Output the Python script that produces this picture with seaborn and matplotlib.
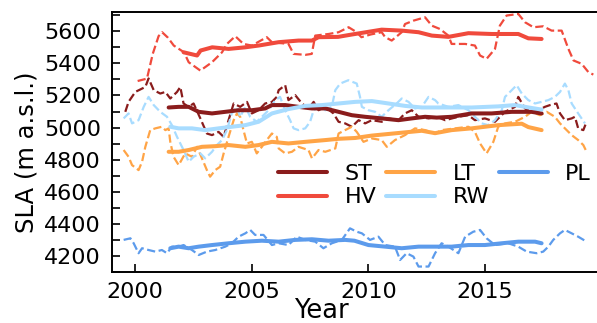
import numpy as np
import pandas as pd
import matplotlib
matplotlib.use("Agg")
import matplotlib.pyplot as plt
from matplotlib.ticker import MultipleLocator, NullLocator
import seaborn as sns

# ---------------- data ----------------
names = ["ST", "HV", "LT", "RW", "PL"]
colors = ["#8a1c1c", "#f04a3c", "#ffa446", "#a8dcff", "#5c9bec"]

st_dash_x = [1999.57, 1999.71, 2000.0, 2000.43, 2000.57, 2000.79, 2001.07, 2001.29, 2001.5, 2001.79, 2001.93, 2002.07, 2002.29, 2002.5, 2002.79, 2003.07, 2003.29, 2003.57, 2003.79, 2004.0, 2004.22, 2004.5, 2004.79, 2005.0, 2005.29, 2005.57, 2005.86, 2006.07, 2006.15, 2006.43, 2006.57, 2006.86, 2007.15, 2007.43, 2007.65, 2007.86, 2008.15, 2008.5, 2008.72, 2009.0, 2009.29, 2009.58, 2009.86, 2010.15, 2010.57, 2010.86, 2011.29, 2011.57, 2011.86, 2012.15, 2012.58, 2012.93, 2013.29, 2013.86, 2014.29, 2014.57, 2015.0, 2015.43, 2015.86, 2016.29, 2016.43, 2016.72, 2017.0, 2017.29, 2017.57, 2017.79, 2018.07, 2018.22, 2018.43, 2018.72, 2018.86, 2019.0, 2019.22, 2019.36]
st_dash_y = [5098, 5160, 5222, 5253, 5306, 5233, 5212, 5222, 5181, 5222, 5253, 5150, 5129, 5150, 5057, 4963, 4953, 4973, 4942, 5046, 5150, 5129, 5160, 5088, 5108, 5150, 5160, 5191, 5233, 5264, 5171, 5202, 5150, 5119, 5160, 5108, 5129, 5088, 5036, 5026, 5005, 5046, 5026, 5046, 5036, 5057, 5046, 5088, 5108, 5067, 5057, 5067, 5046, 5067, 5077, 5046, 5057, 5036, 5098, 5129, 5191, 5119, 5098, 5108, 5129, 5140, 5150, 5088, 5046, 5057, 5067, 4995, 4984, 5036]
st_sm_x = [2001.43, 2001.86, 2002.29, 2002.72, 2003.29, 2003.86, 2004.43, 2005.0, 2005.57, 2005.86, 2006.43, 2007.0, 2007.58, 2008.15, 2008.72, 2009.29, 2009.86, 2010.57, 2011.29, 2011.86, 2012.43, 2012.93, 2013.57, 2014.43, 2015.29, 2016.15, 2017.0, 2017.43]
st_sm_y = [5125, 5129, 5129, 5098, 5088, 5098, 5108, 5108, 5119, 5140, 5140, 5129, 5119, 5119, 5098, 5077, 5067, 5057, 5046, 5057, 5067, 5062, 5067, 5088, 5088, 5098, 5098, 5088]

hv_dash_x = [2000.1, 2000.5, 2000.75, 2001.0, 2001.15, 2001.4, 2001.65, 2002.09, 2002.29, 2002.79, 2003.29, 2003.72, 2003.93, 2004.29, 2004.64, 2005.0, 2005.64, 2005.86, 2006.57, 2006.79, 2007.29, 2007.57, 2007.72, 2008.29, 2008.72, 2009.15, 2009.5, 2009.7, 2010.1, 2010.57, 2010.72, 2011.0, 2011.43, 2011.57, 2011.93, 2012.43, 2012.72, 2013.07, 2013.43, 2013.57, 2014.15, 2014.57, 2014.79, 2015.07, 2015.43, 2015.64, 2015.93, 2016.43, 2016.72, 2017.08, 2017.5, 2017.86, 2018.29, 2018.58, 2018.8, 2019.15, 2019.44, 2019.65]
hv_dash_y = [5290, 5305, 5460, 5570, 5594, 5560, 5511, 5469, 5407, 5355, 5407, 5469, 5521, 5569, 5521, 5511, 5563, 5532, 5521, 5459, 5453, 5459, 5573, 5583, 5594, 5625, 5594, 5563, 5580, 5594, 5563, 5542, 5594, 5645, 5666, 5687, 5635, 5614, 5573, 5521, 5521, 5511, 5449, 5428, 5490, 5635, 5698, 5708, 5656, 5625, 5631, 5604, 5604, 5490, 5418, 5397, 5345, 5330]
hv_sm_x = [2002.07, 2002.65, 2002.8, 2003.3, 2004.0, 2004.72, 2005.29, 2006.15, 2007.0, 2007.58, 2007.86, 2008.7, 2009.3, 2010.57, 2011.43, 2012.15, 2012.72, 2013.43, 2014.29, 2015.29, 2016.43, 2016.86, 2017.43]
hv_sm_y = [5469, 5449, 5480, 5500, 5490, 5500, 5511, 5532, 5542, 5542, 5563, 5565, 5580, 5610, 5604, 5594, 5573, 5565, 5588, 5583, 5583, 5556, 5552]

lt_dash_x = [1999.5, 1999.71, 1999.86, 2000.14, 2000.29, 2000.43, 2000.64, 2000.86, 2001.14, 2001.29, 2001.43, 2001.5, 2001.64, 2001.86, 2002.14, 2002.43, 2002.65, 2002.86, 2003.07, 2003.21, 2003.43, 2003.64, 2003.79, 2004.0, 2004.22, 2004.36, 2004.5, 2004.64, 2004.79, 2005.0, 2005.21, 2005.43, 2005.64, 2005.86, 2006.07, 2006.15, 2006.43, 2006.72, 2007.0, 2007.43, 2007.58, 2007.86, 2008.15, 2008.58, 2008.72, 2009.0, 2009.29, 2009.5, 2009.79, 2010.15, 2010.57, 2010.79, 2011.14, 2011.57, 2012.0, 2012.43, 2012.86, 2013.14, 2013.72, 2014.29, 2014.57, 2014.79, 2015.07, 2015.36, 2015.57, 2015.86, 2016.29, 2016.72, 2017.0, 2017.36, 2017.65, 2018.0, 2018.22, 2018.43, 2018.72, 2019.0, 2019.22, 2019.36]
lt_dash_y = [4860, 4818, 4766, 4735, 4787, 4880, 4984, 4995, 5005, 4984, 4995, 4911, 4818, 4766, 4839, 4818, 4880, 4808, 4735, 4694, 4735, 4756, 4839, 4942, 5046, 5088, 5067, 4984, 4901, 4911, 4839, 4880, 4922, 4963, 4942, 4870, 4839, 4849, 4880, 4860, 4808, 4860, 4849, 4870, 4963, 4984, 5005, 4973, 4911, 4932, 4922, 4880, 4922, 4953, 4995, 4984, 4963, 4984, 4995, 5005, 4973, 4901, 4839, 4911, 5005, 5026, 5036, 5067, 5098, 5077, 5098, 5067, 5026, 4995, 4953, 4922, 4891, 4849]
lt_sm_x = [2001.43, 2001.86, 2002.29, 2002.86, 2003.43, 2004.0, 2004.72, 2005.29, 2005.86, 2006.57, 2007.29, 2008.15, 2008.72, 2009.43, 2010.15, 2010.86, 2011.57, 2012.29, 2012.86, 2013.57, 2014.43, 2015.57, 2016.58, 2016.86, 2017.43]
lt_sm_y = [4849, 4849, 4860, 4880, 4884, 4891, 4880, 4891, 4911, 4901, 4911, 4922, 4930, 4935, 4950, 4960, 4970, 4980, 4965, 4984, 4995, 5015, 5024, 5003, 4984]

rw_dash_x = [1999.5, 1999.71, 1999.86, 2000.14, 2000.36, 2000.57, 2000.79, 2001.07, 2001.36, 2001.57, 2001.79, 2002.07, 2002.29, 2002.5, 2002.79, 2003.0, 2003.29, 2003.5, 2003.72, 2003.93, 2004.14, 2004.36, 2004.5, 2004.72, 2004.93, 2005.21, 2005.43, 2005.72, 2006.0, 2006.21, 2006.43, 2006.64, 2006.79, 2007.0, 2007.29, 2007.5, 2007.65, 2007.86, 2008.15, 2008.43, 2008.58, 2008.79, 2009.14, 2009.5, 2009.64, 2009.72, 2010.0, 2010.29, 2010.57, 2010.86, 2011.21, 2011.43, 2011.72, 2012.0, 2012.29, 2012.58, 2012.86, 2013.0, 2013.43, 2013.86, 2014.29, 2014.57, 2014.86, 2015.14, 2015.43, 2015.72, 2015.86, 2016.15, 2016.36, 2016.58, 2016.86, 2017.15, 2017.43, 2017.72, 2018.0, 2018.22, 2018.43, 2018.58, 2018.72, 2019.0, 2019.29]
rw_dash_y = [5057, 5088, 5026, 5046, 5129, 5191, 5140, 5098, 5067, 5015, 4942, 4860, 4787, 4818, 4839, 4808, 4849, 4891, 4922, 4984, 5088, 5129, 5067, 5129, 5067, 5036, 5067, 5108, 5170, 5191, 5108, 5046, 4995, 4984, 4995, 5036, 5108, 5129, 5108, 5129, 5233, 5274, 5295, 5274, 5191, 5129, 5108, 5098, 5067, 5108, 5150, 5181, 5160, 5119, 5129, 5191, 5171, 5150, 5129, 5140, 5108, 5067, 5026, 5015, 5046, 5108, 5191, 5233, 5264, 5212, 5171, 5150, 5160, 5171, 5191, 5222, 5274, 5233, 5150, 5088, 5026]
rw_sm_x = [2001.5, 2001.86, 2002.43, 2003.0, 2003.57, 2004.14, 2004.72, 2005.29, 2005.86, 2006.57, 2007.29, 2008.0, 2008.72, 2009.43, 2010.15, 2010.86, 2011.57, 2012.29, 2012.93, 2013.57, 2014.43, 2015.57, 2016.29, 2017.0, 2017.43]
rw_sm_y = [5005, 4995, 4995, 4984, 4995, 5005, 5015, 5036, 5088, 5115, 5135, 5140, 5150, 5160, 5165, 5150, 5135, 5125, 5125, 5125, 5125, 5132, 5140, 5122, 5112]

pl_dash_x = [1999.5, 1999.79, 1999.93, 2000.14, 2000.29, 2000.57, 2000.86, 2001.14, 2001.36, 2001.57, 2001.86, 2002.07, 2002.43, 2002.72, 2003.07, 2003.43, 2003.86, 2004.14, 2004.43, 2004.72, 2004.93, 2005.14, 2005.5, 2005.86, 2006.15, 2006.57, 2006.93, 2007.29, 2007.72, 2008.07, 2008.43, 2008.86, 2009.21, 2009.5, 2009.72, 2010.07, 2010.43, 2010.72, 2011.14, 2011.36, 2011.64, 2011.93, 2012.15, 2012.58, 2012.86, 2013.14, 2013.43, 2013.86, 2014.15, 2014.5, 2014.79, 2015.07, 2015.43, 2016.0, 2016.43, 2016.79, 2017.22, 2017.5, 2017.72, 2017.93, 2018.22, 2018.43, 2018.72, 2019.0, 2019.36]
pl_dash_y = [4300, 4310, 4279, 4217, 4248, 4237, 4227, 4237, 4217, 4258, 4258, 4268, 4237, 4206, 4227, 4237, 4258, 4279, 4320, 4341, 4362, 4331, 4331, 4268, 4279, 4268, 4320, 4300, 4289, 4248, 4279, 4300, 4372, 4351, 4341, 4300, 4320, 4268, 4258, 4175, 4217, 4196, 4134, 4134, 4217, 4279, 4258, 4217, 4320, 4351, 4362, 4310, 4268, 4279, 4258, 4227, 4217, 4227, 4258, 4300, 4341, 4362, 4341, 4320, 4289]
pl_sm_x = [2001.5, 2001.86, 2002.29, 2002.72, 2003.29, 2004.0, 2004.72, 2005.43, 2006.15, 2006.86, 2007.58, 2008.29, 2009.0, 2009.4, 2010.0, 2010.72, 2011.43, 2012.15, 2012.86, 2013.57, 2014.29, 2015.0, 2015.72, 2016.43, 2017.15, 2017.43]
pl_sm_y = [4248, 4258, 4248, 4258, 4268, 4279, 4289, 4295, 4289, 4300, 4304, 4295, 4300, 4295, 4268, 4258, 4248, 4258, 4258, 4258, 4268, 4268, 4279, 4289, 4289, 4279]

dash_x = [st_dash_x, hv_dash_x, lt_dash_x, rw_dash_x, pl_dash_x]
dash_y = [st_dash_y, hv_dash_y, lt_dash_y, rw_dash_y, pl_dash_y]
sm_x = [st_sm_x, hv_sm_x, lt_sm_x, rw_sm_x, pl_sm_x]
sm_y = [st_sm_y, hv_sm_y, lt_sm_y, rw_sm_y, pl_sm_y]

xticks = [2000, 2005, 2010, 2015]

# ---------------- figure ----------------
sns.set_style("ticks")
plt.rcParams["font.family"] = ["DejaVu Sans"]
plt.rcParams["text.color"] = "black"
plt.rcParams["axes.labelcolor"] = "black"
plt.rcParams["xtick.color"] = "black"
plt.rcParams["ytick.color"] = "black"

W, H = 597, 323
fig = plt.figure(figsize=(W / 100, H / 100), dpi=100)
ax = fig.add_axes([112 / W, 1 - 272 / H, 486 / W, 260 / H])

for name, c, dx, dy in zip(names, colors, dash_x, dash_y):
    d = pd.DataFrame({"Year": dx, "SLA": dy})
    sns.lineplot(data=d, x="Year", y="SLA", ax=ax, color=c, linewidth=1.6,
                 linestyle="--", legend=False, zorder=2)

for name, c, sx, sy in zip(names, colors, sm_x, sm_y):
    d = pd.DataFrame({"Year": sx, "SLA": sy})
    sns.lineplot(data=d, x="Year", y="SLA", ax=ax, color=c, linewidth=2.9,
                 label=name, zorder=3)

ax.set_xlim(1999.0, 2019.85)
ax.set_ylim(4100, 5720)
ax.set_xticks(xticks)
ax.set_xticklabels([str(t) for t in xticks])
ax.xaxis.set_minor_locator(NullLocator())
ax.yaxis.set_major_locator(MultipleLocator(200))
ax.yaxis.set_minor_locator(MultipleLocator(100))
ax.tick_params(axis="both", which="both", direction="in", length=6,
               width=1.2, color="black", labelcolor="black", labelsize=16)
ax.tick_params(axis="y", which="major", pad=8)
ax.tick_params(axis="x", which="major", pad=7)
ax.spines["right"].set_visible(False)
for s in ["left", "bottom", "top"]:
    ax.spines[s].set_linewidth(1.4)
    ax.spines[s].set_color("black")

ax.set_xlabel("Year", fontsize=18.5, color="black")
ax.set_ylabel("SLA (m a.s.l.)", fontsize=17.5, color="black")
ax.xaxis.set_label_coords(0.43, -0.10)
ax.yaxis.set_label_coords(-0.151, 0.46)

leg = ax.legend(ncol=3, frameon=False, fontsize=16, handlelength=2.2,
                handletextpad=0.8, columnspacing=0.43, labelspacing=0.15,
                loc="center", bbox_to_anchor=(434.5 / W, 1 - 185.7 / H),
                bbox_transform=fig.transFigure, borderpad=0.2)
for t in leg.get_texts():
    t.set_color("black")

fig.savefig("out.png", dpi=100)
